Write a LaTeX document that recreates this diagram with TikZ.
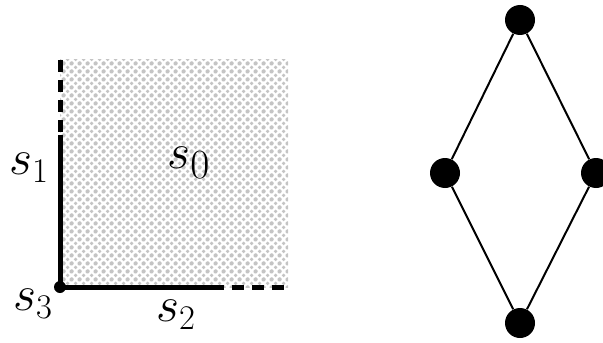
\documentclass[tikz,border=0pt]{standalone}
\usepackage{amsmath,amssymb}
\usepackage{xcolor}
\usetikzlibrary{patterns.meta,positioning}
\definecolor{sqFill}{HTML}{C4C4C4}
\tikzdeclarepattern{
  name=diamond dots,
  type=uncolored,
  bottom left={(0pt,0pt)},
  top right={(4pt,4pt)},
  tile size={(4pt,4pt)},
  code={
    \foreach \cx/\cy in {0/0,4/0,0/4,4/4,2/2}
      \fill (\cx pt-1.05pt,\cy pt) -- (\cx pt,\cy pt-1.05pt) -- (\cx pt+1.05pt,\cy pt) -- (\cx pt,\cy pt+1.05pt) -- cycle;
  }
}
\tikzset{
  sq edge/.style={line width=2.5pt},
  sq open/.style={sq edge, dash pattern=on 6pt off 4pt},
  sq label/.style={font=\fontsize{24}{28}\selectfont, inner sep=0pt},
  lat vertex/.style={circle, fill=black, minimum size=15pt, inner sep=0pt},
  lat edge/.style={line width=1pt}
}
\begin{document}
\begin{tikzpicture}[x=0.5pt,y=-0.5pt]
\useasboundingbox (0,0) rectangle (603,342);
% the region and its faces
\coordinate (corner) at (60,287);
\coordinate (top) at (60,60);
\coordinate (topcut) at (60,135);
\coordinate (right) at (288,287);
\coordinate (rightcut) at (212,287);
\fill[pattern=diamond dots, pattern color=sqFill] (top) rectangle (right);
\draw[sq open] (top) -- (topcut);
\draw[sq edge] (topcut) -- (corner) -- (rightcut);
\draw[sq open] (rightcut) -- (right);
\fill (corner) circle (3pt);
\node[sq label, font=\fontsize{29}{33}\selectfont] (s0) at (189,163) {$s_0$};
\node[sq label] (s1) at (29,168) {$s_1$};
\node[sq label] (s2) at (176,315) {$s_2$};
\node[sq label] (s3) at (33,304) {$s_3$};
% the lattice
\node[lat vertex] (l0) at (520,20) {};
\node[lat vertex] (l1) at (445,173) {};
\node[lat vertex] (l2) at (596,173) {};
\node[lat vertex] (l3) at (520,323) {};
\draw[lat edge] (l0) -- (l1) -- (l3) -- (l2) -- (l0);
\end{tikzpicture}
\end{document}
